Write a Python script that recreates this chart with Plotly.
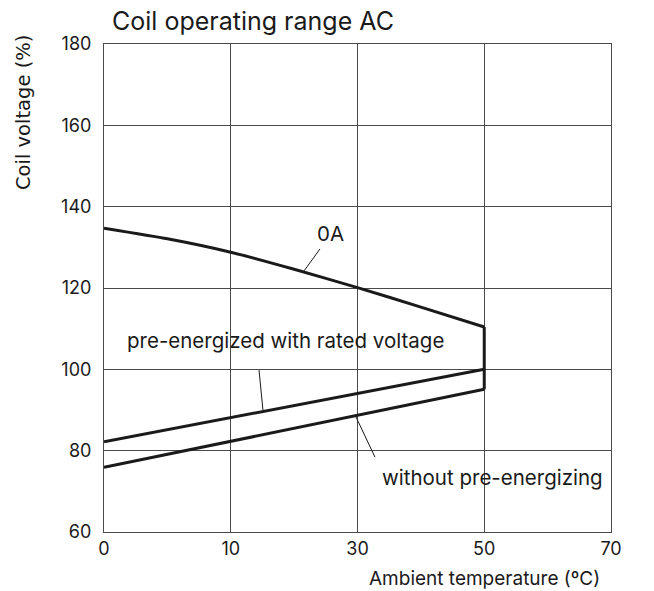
import numpy as np
import plotly.graph_objects as go

# Axis ticks (non-linear temperature scale drawn with equal spacing)
tick_temps = [0, 10, 30, 50, 70]
tick_labels = ["0", "10", "30", "50", "70"]
y_ticks = [60, 80, 100, 120, 140, 160, 180]

# Series (temperature in °C, coil voltage in %)
oa_temp = [0, 5, 10, 20, 30, 40, 50]
oa_volt = [134.7, 132.1, 128.8, 124.6, 120.1, 115.3, 110.4]

pre_temp = [0, 50]
pre_volt = [82.2, 100]

without_temp = [0, 50]
without_volt = [75.9, 95.1]

limit_temp = [50, 50]
limit_volt = [95.1, 110.4]

tick_pos = list(range(len(tick_temps)))


def to_pos(t):
    return np.interp(t, tick_temps, tick_pos)


# page geometry (the page body adds an 8px offset)
W, H = 646, 583
L, R, T, B = 96, 43, 36, 59
PW, PH = W - L - R, H - T - B

fig = go.Figure()
ink = "#1a1a1a"
fig.add_trace(go.Scatter(x=to_pos(oa_temp), y=oa_volt, mode="lines",
                         line=dict(shape="spline", smoothing=0.5, color=ink, width=3),
                         showlegend=False, hoverinfo="skip"))
for t, v in [(pre_temp, pre_volt), (without_temp, without_volt), (limit_temp, limit_volt)]:
    fig.add_trace(go.Scatter(x=to_pos(t), y=v, mode="lines", line=dict(color=ink, width=3),
                             showlegend=False, hoverinfo="skip"))

# Leader lines
leaders = [
    ((1.704, 129.6), (1.578, 124.2)),
    ((1.223, 99.8), (1.254, 90.0)),
    ((1.988, 88.3), (2.138, 78.4)),
]
for (x0, y0), (x1, y1) in leaders:
    fig.add_shape(type="line", x0=x0, y0=y0, x1=x1, y1=y1, line=dict(color=ink, width=1))

font = "Inter, Roboto, sans-serif"
ann_font = dict(family=font, size=20.5, color=ink)
fig.add_annotation(x=1.783, y=133.5, text="0A", showarrow=False, font=ann_font)
fig.add_annotation(x=1.428, y=107.0, text="pre-energized with rated voltage", showarrow=False, font=ann_font)
fig.add_annotation(x=3.065, y=73.3, text="without pre-energizing", showarrow=False, font=ann_font)

# Axis titles (positions relative to the plot area)
fig.add_annotation(x=(602 - 104) / PW, y=-(578 - 532) / PH, xref="paper", yref="paper",
                   text="Ambient temperature (ºC)", showarrow=False, xanchor="right", yanchor="middle",
                   font=dict(family=font, size=19, color=ink))
fig.add_annotation(x=-(104 - 23) / PW, y=1 - (113 - 44) / PH, xref="paper", yref="paper",
                   text="Coil voltage (%)", textangle=-90, showarrow=False, xanchor="center", yanchor="middle",
                   font=dict(family="DejaVu Sans, sans-serif", size=19.5, color=ink))

fig.update_layout(
    width=W, height=H,
    margin=dict(l=L, r=R, t=T, b=B),
    plot_bgcolor="white", paper_bgcolor="white",
    title=dict(text="Coil operating range AC", x=104 / W, xanchor="left", y=1 - 4 / H, yanchor="top",
               font=dict(family=font, size=25, color=ink)),
    font=dict(family=font, color=ink),
)

axis_common = dict(showgrid=True, gridcolor="#4a4a4a", gridwidth=1, showline=True, linecolor="#4a4a4a",
                   linewidth=1, mirror=True, zeroline=False, ticks="",
                   tickfont=dict(family=font, size=18, color=ink))
fig.update_xaxes(range=[0, 4], tickvals=tick_pos, ticktext=tick_labels, **axis_common)
fig.update_yaxes(range=[60, 180], tickvals=y_ticks, ticklabelstandoff=8, **axis_common)

fig.write_html("out.html", config={"displayModeBar": False})
